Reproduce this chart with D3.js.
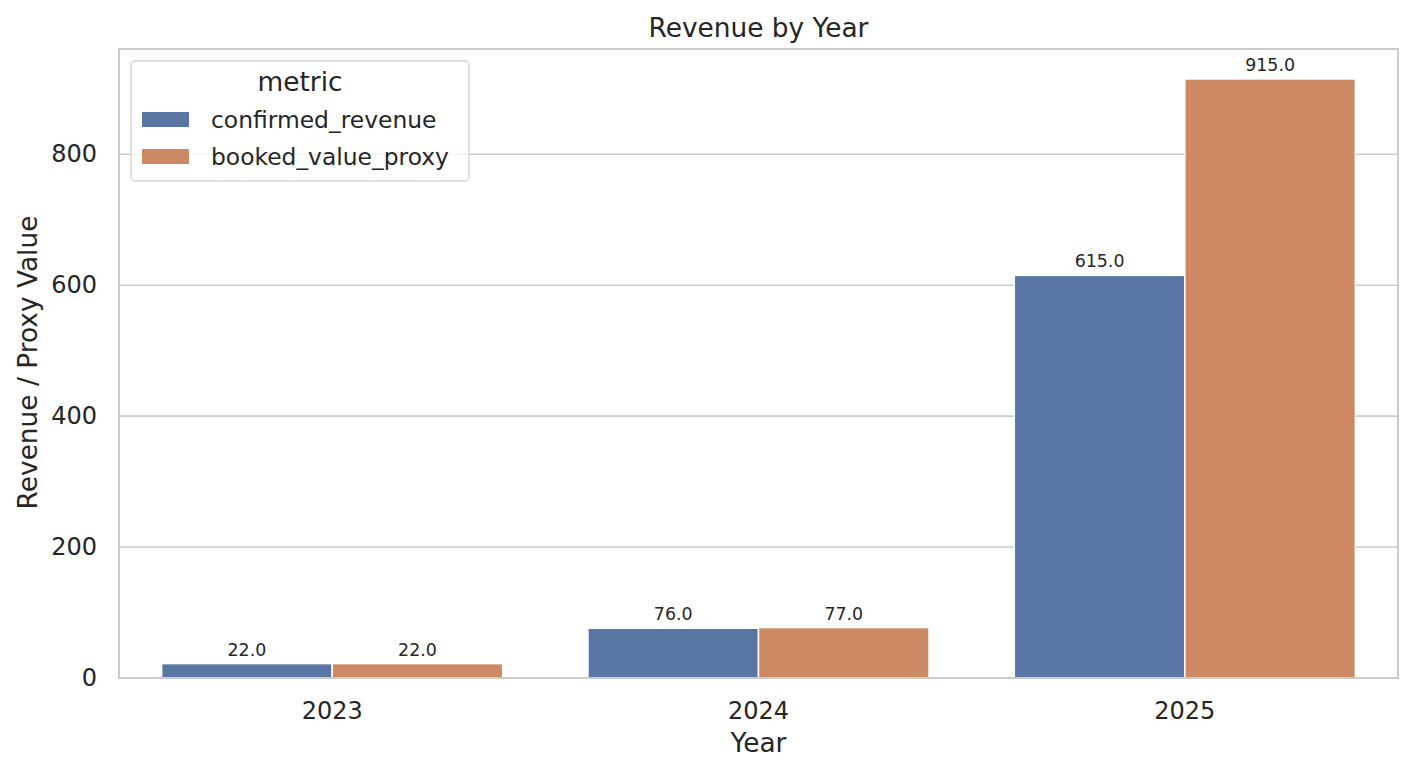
<!DOCTYPE html>
<html lang="en">
<head>
<meta charset="UTF-8">
<title>Revenue by Year</title>
<script src="https://d3js.org/d3.v7.min.js"></script>
<style>
  body { margin: 0; background: #fff; }
  svg text { font-family: "DejaVu Sans", sans-serif; fill: #262626; }
</style>
</head>
<body>
<div id="chart"></div>
<script>
// chart data
const years = ["2023", "2024", "2025"];
const metrics = ["confirmed_revenue", "booked_value_proxy"];
const confirmedRevenue = [22, 76, 615];
const bookedValueProxy = [22, 77, 915];
const yTicks = [0, 200, 400, 600, 800];
const colors = ["#5975a4", "#cc8963"];

const W = 1414, H = 774;
const margin = {top: 49, right: 16, bottom: 96, left: 119};
const width = W - margin.left - margin.right,
      height = H - margin.top - margin.bottom;

const rows = years.map((yr, i) => ({year: yr, values: [confirmedRevenue[i], bookedValueProxy[i]]}));

const svg = d3.select("#chart").append("svg")
    .attr("width", W).attr("height", H);
const g = svg.append("g").attr("transform", `translate(${margin.left},${margin.top})`);

const x = d3.scaleBand().domain(years).range([0, width]).padding(0);
const xInner = d3.scaleBand().domain(metrics).range([x.bandwidth() * 0.1, x.bandwidth() * 0.9]);
const yMax = d3.max(bookedValueProxy.concat(confirmedRevenue)) * 1.05;
const y = d3.scaleLinear().domain([0, yMax]).range([height, 0]);

// grid
g.selectAll(".grid").data(yTicks).join("line")
    .attr("x1", 0).attr("x2", width)
    .attr("y1", d => y(d)).attr("y2", d => y(d))
    .attr("stroke", "#cccccc").attr("stroke-width", 1.6);

// bars
const grp = g.selectAll(".yr").data(rows).join("g")
    .attr("transform", d => `translate(${x(d.year)},0)`);
grp.selectAll("rect").data(d => d.values.map((v, k) => ({metric: metrics[k], v, k}))).join("rect")
    .attr("x", d => xInner(d.metric))
    .attr("width", xInner.bandwidth())
    .attr("y", d => y(d.v))
    .attr("height", d => y(0) - y(d.v))
    .attr("fill", d => colors[d.k])
    .attr("stroke", "#fff").attr("stroke-width", 1.5);
grp.selectAll(".val").data(d => d.values.map((v, k) => ({metric: metrics[k], v}))).join("text")
    .attr("x", d => xInner(d.metric) + xInner.bandwidth() / 2)
    .attr("y", d => y(d.v) - 8)
    .attr("text-anchor", "middle")
    .attr("font-size", 17.4)
    .text(d => d.v.toFixed(1));

// frame
g.append("rect").attr("width", width).attr("height", height)
    .attr("fill", "none").attr("stroke", "#cccccc").attr("stroke-width", 2);

// axes
const xAxis = g.append("g").attr("transform", `translate(0,${height})`)
    .call(d3.axisBottom(x).tickSize(0).tickPadding(24));
const yAxis = g.append("g")
    .call(d3.axisLeft(y).tickValues(yTicks).tickSize(0).tickPadding(22).tickFormat(d3.format("d")));
[xAxis, yAxis].forEach(a => {
  a.select(".domain").remove();
  a.selectAll("text").attr("font-size", 24).attr("fill", "#262626");
});

// labels
svg.append("text").attr("x", margin.left + width / 2).attr("y", 37)
    .attr("text-anchor", "middle").attr("font-size", 26.4).text("Revenue by Year");
svg.append("text").attr("x", margin.left + width / 2).attr("y", 752)
    .attr("text-anchor", "middle").attr("font-size", 26.4).text("Year");
svg.append("text").attr("transform", `translate(37,${margin.top + height / 2 - 1}) rotate(-90)`)
    .attr("text-anchor", "middle").attr("font-size", 26.4).text("Revenue / Proxy Value");

// legend
const lg = svg.append("g").attr("transform", "translate(131,61)");
lg.append("rect").attr("width", 338).attr("height", 120).attr("rx", 4)
    .attr("fill", "#fff").attr("fill-opacity", 0.8)
    .attr("stroke", "#d6d6d6").attr("stroke-width", 1.5);
lg.append("text").attr("x", 169).attr("y", 30).attr("text-anchor", "middle")
    .attr("font-size", 26.4).text("metric");
const items = lg.selectAll(".item").data(metrics).join("g")
    .attr("transform", (d, i) => `translate(11,${51 + i * 37})`);
items.append("rect").attr("width", 47).attr("height", 15).attr("fill", (d, i) => colors[i]);
items.append("text").attr("x", 69).attr("y", 16).attr("font-size", 23.4).text(d => d);
</script>
</body>
</html>
